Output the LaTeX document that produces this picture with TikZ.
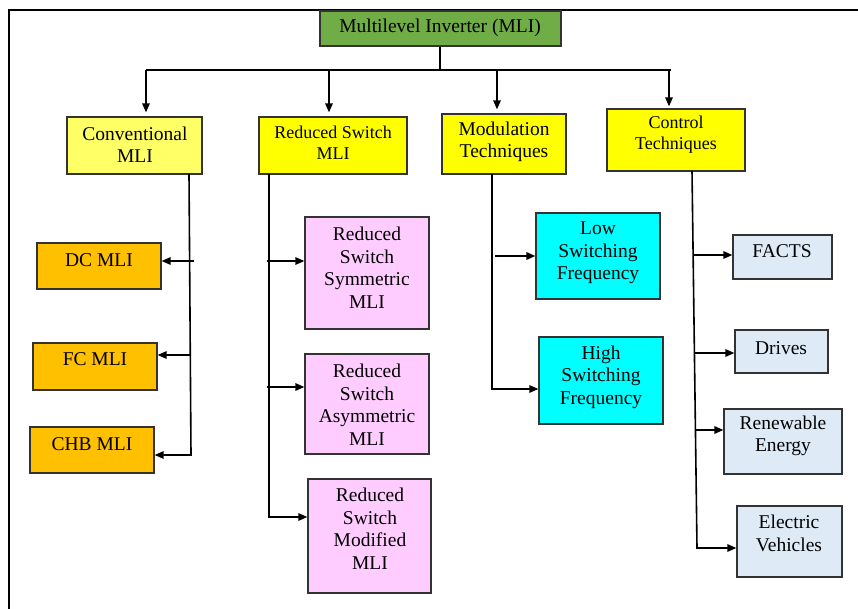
\documentclass[tikz,border=0pt]{standalone}
\usepackage{fontspec}
\setmainfont{Liberation Serif}
\usetikzlibrary{arrows.meta}
\definecolor{cgreen}{HTML}{70AD47}
\definecolor{cpale}{HTML}{FFFF66}
\definecolor{cyel}{HTML}{FFFF00}
\definecolor{corange}{HTML}{FFC000}
\definecolor{cpink}{HTML}{FFCCFF}
\definecolor{ccyan}{HTML}{00FFFF}
\definecolor{cblue}{HTML}{DEEBF7}
\begin{document}
\begin{tikzpicture}[x=1pt,y=-1pt,
  box/.style={draw=black!80, line width=1.3pt, inner sep=0pt, fill=#1},
  lbl/.style={align=center, inner sep=0pt, font=\fontsize{19.5}{22.5}\selectfont},
  lbls/.style={align=center, inner sep=0pt, font=\fontsize{18}{21}\selectfont},
  conn/.style={line width=1.6pt, draw=black},
  arr/.style={conn, -{Triangle[length=9pt,width=7.5pt]}}]
\useasboundingbox (0,0) rectangle (858,609);
% frame
\coordinate (fTR) at (860,10);
\coordinate (fTL) at (9,10);
\coordinate (fBL) at (9,611);
\draw[line width=2.6pt] (fTR) -- (fTL) -- (fBL);
% boxes
\node[box=cgreen, minimum width=241pt, minimum height=35pt] (top) at (440.5,28.5) {};
\node[box=cpale, minimum width=135pt, minimum height=57pt] (conv) at (134.5,145.5) {};
\node[box=cyel, minimum width=148pt, minimum height=57pt] (rs) at (333,145.5) {};
\node[box=cyel, minimum width=124pt, minimum height=60pt] (mod) at (504,144) {};
\node[box=cyel, minimum width=138pt, minimum height=62pt] (ctl) at (676,140) {};
\node[box=corange, minimum width=124pt, minimum height=46pt] (dc) at (99,266) {};
\node[box=corange, minimum width=124pt, minimum height=47pt] (fc) at (95,366.5) {};
\node[box=corange, minimum width=124pt, minimum height=46pt] (chb) at (92,450) {};
\node[box=cpink, minimum width=124pt, minimum height=112pt] (sym) at (367,273) {};
\node[box=cpink, minimum width=124pt, minimum height=100pt] (asym) at (367,404) {};
\node[box=cpink, minimum width=123pt, minimum height=114pt] (modf) at (369.5,536) {};
\node[box=ccyan, minimum width=124pt, minimum height=86pt] (low) at (598,256) {};
\node[box=ccyan, minimum width=124pt, minimum height=87pt] (high) at (601,380.5) {};
\node[box=cblue, minimum width=99pt, minimum height=44pt] (facts) at (782.5,257) {};
\node[box=cblue, minimum width=93pt, minimum height=43pt] (drives) at (781.5,351.5) {};
\node[box=cblue, minimum width=118pt, minimum height=65pt] (ren) at (783,441.5) {};
\node[box=cblue, minimum width=105pt, minimum height=71pt] (ev) at (789.5,541.5) {};
% labels
\node[lbl] (topT) at (440,28) {Multilevel Inverter (MLI)};
\node[lbl] (convT) at (135,144.5) {Conventional\\MLI};
\node[lbls] (rsT) at (333,142.5) {Reduced Switch\\MLI};
\node[lbl] (modT) at (504,142) {Modulation\\Techniques};
\node[lbls] (ctlT) at (676,134.5) {Control\\Techniques};
\node[lbl] (dcT) at (99,260) {DC MLI};
\node[lbl] (fcT) at (95,359) {FC MLI};
\node[lbl] (chbT) at (92,444) {CHB MLI};
\node[lbl] (symT) at (367,267.5) {Reduced\\Switch\\Symmetric\\MLI};
\node[lbl] (asymT) at (367,404.5) {Reduced\\Switch\\Asymmetric\\MLI};
\node[lbl] (modfT) at (370,528.5) {Reduced\\Switch\\Modified\\MLI};
\node[lbl] (lowT) at (598,253) {Low\\Switching\\Frequency};
\node[lbl] (highT) at (601,377) {High\\Switching\\Frequency};
\node[lbl] (factsT) at (782,251) {FACTS};
\node[lbl] (drivesT) at (781,348) {Drives};
\node[lbl] (renT) at (783,436) {Renewable\\Energy};
\node[lbl] (evT) at (789,533.5) {Electric\\Vehicles};
% top bus
\coordinate (busM) at (440,70);
\coordinate (b1) at (146,70);
\coordinate (b2) at (329,70);
\coordinate (b3) at (497,70);
\coordinate (b4) at (669,70);
\coordinate (busR) at (671,70);
\draw[conn] (top.south -| busM) -- (busM);
\draw[conn] (b1) -- (busR);
\draw[arr, shorten >=4pt] (b1) -- (b1 |- conv.north);
\draw[arr, shorten >=4pt] (b2) -- (b2 |- rs.north);
\draw[arr, shorten >=4pt] (b3) -- (b3 |- mod.north);
\draw[arr, shorten >=2pt] (b4) -- (b4 |- ctl.north);
% conventional branch
\coordinate (cvA) at (189,174);
\coordinate (cvB) at (191,455);
\coordinate (dcS) at (194,261);
\coordinate (fcS) at (191,355);
\draw[arr] (cvA) -- (cvB) -- (chb.east |- cvB);
\draw[arr] (dcS) -- (dc.east |- dcS);
\draw[arr] (fcS) -- (fc.east |- fcS);
% reduced switch branch
\coordinate (rsA) at (269,174);
\coordinate (rsB) at (269,517);
\coordinate (syS) at (267,261);
\coordinate (asS) at (267,387);
\draw[arr] (rsA) -- (rsB) -- (modf.west |- rsB);
\draw[arr] (syS) -- (sym.west |- syS);
\draw[arr] (asS) -- (asym.west |- asS);
% modulation branch
\coordinate (mdA) at (492,174);
\coordinate (mdB) at (492,389);
\coordinate (lwS) at (495,256);
\draw[arr] (mdA) -- (mdB) -- (high.west |- mdB);
\draw[arr] (lwS) -- (low.west |- lwS);
% control branch
\coordinate (clA) at (692,171);
\coordinate (clB) at (697,548);
\coordinate (faS) at (693,255);
\coordinate (drS) at (695,353);
\coordinate (reS) at (696,430);
\draw[arr] (clA) -- (clB) -- (ev.west |- clB);
\draw[arr] (faS) -- (facts.west |- faS);
\draw[arr] (drS) -- (drives.west |- drS);
\draw[arr] (reS) -- (ren.west |- reS);
\end{tikzpicture}
\end{document}
